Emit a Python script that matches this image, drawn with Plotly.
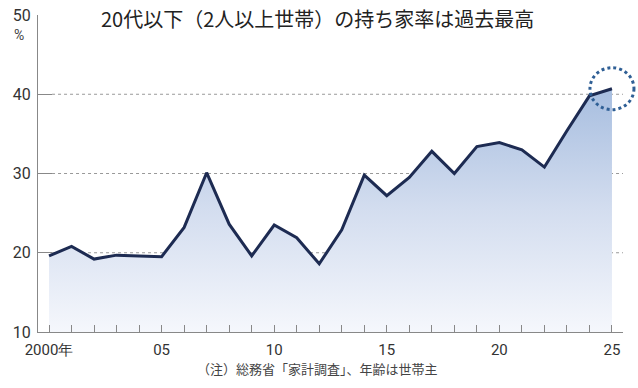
import plotly.graph_objects as go

years = list(range(2000, 2026))
rates = [19.6, 20.8, 19.2, 19.7, 19.6, 19.5, 23.2, 30.1, 23.6, 19.6,
         23.5, 21.9, 18.6, 22.9, 29.8, 27.2, 29.5, 32.8, 30.0, 33.4,
         33.9, 33.0, 30.8, 35.4, 39.8, 40.7]
tick_vals = [2000, 2005, 2010, 2015, 2020, 2025]
tick_text = ["2000年", "05", "10", "15", "20", "25"]
y_ticks = [10, 20, 30, 40, 50]
title = "20代以下（2人以上世帯）の持ち家率は過去最高"
note = "（注）総務省「家計調査」、年齢は世帯主"

X_RANGE = [1999.51, 2025.49]
Y_RANGE = [10, 50]

NUM_FONT = "Roboto, Liberation Sans, sans-serif"
JP_FONT = "Noto Sans CJK JP, sans-serif"

fig = go.Figure()
fig.add_trace(go.Scatter(
    x=years, y=[Y_RANGE[0]] * len(years), mode="lines",
    line=dict(width=0), hoverinfo="skip", showlegend=False))
fig.add_trace(go.Scatter(
    x=years, y=rates, mode="lines",
    line=dict(color="#1d2b52", width=3),
    fill="tonexty",
    fillgradient=dict(type="vertical", start=10, stop=41,
                      colorscale=[[0, "#f5f7fc"], [0.5, "#d3ddef"], [1, "#a6bddf"]]),
    showlegend=False))

# dotted gridlines for 20, 30, 40
for v in [20, 30, 40]:
    fig.add_shape(type="line", xref="paper", yref="y", x0=0.024, x1=1, y0=v, y1=v,
                  line=dict(color="#999999", width=1, dash="dot"), layer="below")

# highlight circle around the latest value (paper ref so it is not clipped)
ax = (years[-1] - X_RANGE[0]) / (X_RANGE[1] - X_RANGE[0])
ay = (rates[-1] - Y_RANGE[0]) / (Y_RANGE[1] - Y_RANGE[0])
fig.add_shape(type="circle", xref="paper", yref="paper",
              xsizemode="pixel", ysizemode="pixel",
              xanchor=ax, yanchor=ay,
              x0=-22, x1=22, y0=-21, y1=21,
              line=dict(color="#2f5f95", width=3, dash="dot"))

fig.add_annotation(text=title, xref="paper", yref="paper", x=0.477, y=0.99,
                   xanchor="center", yanchor="middle", showarrow=False,
                   font=dict(family=JP_FONT, size=20, color="#222222"))
fig.add_annotation(text="%", xref="paper", yref="paper", x=-0.021, y=0.937,
                   xanchor="right", yanchor="middle", showarrow=False,
                   font=dict(family=NUM_FONT, size=14, color="#444444"))
fig.add_annotation(text=note, xref="paper", yref="paper", x=0.477, y=-0.1136,
                   xanchor="center", yanchor="middle", showarrow=False,
                   font=dict(family=JP_FONT, size=13, color="#444444"))

fig.update_layout(
    width=638, height=388,
    margin=dict(l=38, r=15, t=15, b=56),
    paper_bgcolor="white", plot_bgcolor="white",
    xaxis=dict(range=X_RANGE, tickmode="array",
               tickvals=years,
               ticktext=[tick_text[tick_vals.index(y)] if y in tick_vals else "" for y in years],
               ticks="inside", ticklen=7, tickcolor="#888888", tickwidth=1,
               showline=True, linecolor="#888888", linewidth=1,
               showgrid=False, zeroline=False, automargin=False,
               ticklabelstandoff=4,
               tickfont=dict(family=NUM_FONT, size=15, color="#333333")),
    yaxis=dict(range=Y_RANGE, tickvals=y_ticks,
               ticks="inside", ticklen=14, tickcolor="#888888", tickwidth=1,
               showline=True, linecolor="#888888", linewidth=1,
               showgrid=False, zeroline=False, automargin=False,
               ticklabelstandoff=3,
               tickfont=dict(family=NUM_FONT, size=16, color="#333333")),
)

fig.write_html("out.html")
